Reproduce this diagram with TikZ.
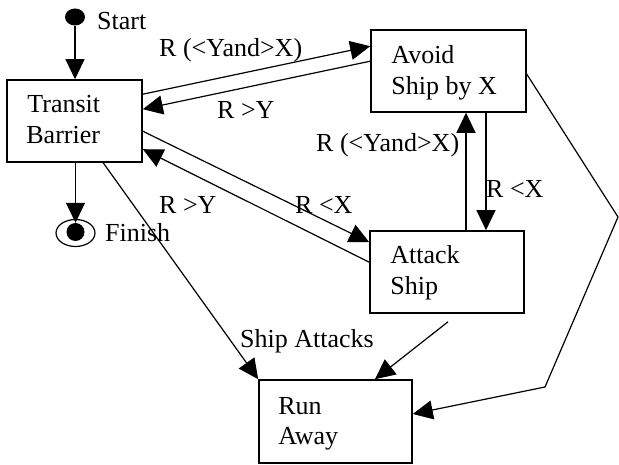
\documentclass[tikz,border=0pt]{standalone}
\usepackage{fontspec}
\setmainfont{Liberation Serif}
\usetikzlibrary{arrows.meta,shapes.geometric,calc}
\begin{document}
\begin{tikzpicture}[x=1pt,y=1pt,
  font=\fontsize{26}{31}\selectfont,
  box/.style={draw,line width=1.6pt,rectangle,inner sep=0,minimum height=82pt},
  txt/.style={inner sep=0,anchor=base west},
  conn/.style={line width=1.2pt,-{Triangle[length=20pt,width=19pt]}},
  plain/.style={line width=1.2pt},
  lbl/.style={inner sep=0,anchor=base west}]
\useasboundingbox (0,0) rectangle (619,464);
% boxes
\node[box,minimum width=135pt] (tb) at (74.5,343) {};
\node[box,minimum width=155pt] (av) at (448.5,393) {};
\node[box,minimum width=154pt] (at) at (447,192) {};
\node[box,minimum width=153pt,minimum height=83pt] (ra) at (335.5,42.5) {};
% box texts
\node[txt] (tb1) at ($(tb.north west)+(21,-33)$) {Transit};
\node[txt] (tb2) at ($(tb.north west)+(20,-64)$) {Barrier};
\node[txt] (av1) at ($(av.north west)+(21,-34)$) {Avoid};
\node[txt] (av2) at ($(av.north west)+(21,-65)$) {Ship by X};
\node[txt] (at1) at ($(at.north west)+(21,-33)$) {Attack};
\node[txt] (at2) at ($(at.north west)+(21,-64)$) {Ship};
\node[txt] (ra1) at ($(ra.north west)+(20,-35)$) {Run};
\node[txt] (ra2) at ($(ra.north west)+(20,-65)$) {Away};
% start and finish
\node[ellipse,fill=black,inner sep=0,minimum width=20pt,minimum height=17pt] (start) at (75,447) {};
\node[txt] (startl) at (97,434) {Start};
\node[ellipse,draw,line width=1.2pt,inner sep=0,minimum width=39pt,minimum height=27pt] (fin) at (75.5,231) {};
\node[ellipse,fill=black,inner sep=0,minimum width=18pt,minimum height=18pt] (findot) at (75.5,232) {};
\node[txt] (finl) at (105,222) {Finish};
% coordinates
\coordinate (atb) at ($(at.south)+(1,-8)$);
\coordinate (bend1) at (618,247);
\coordinate (bend2) at (545,77);
% connectors
\draw[conn] (start) -- (start |- tb.north);
\draw[conn] (findot |- tb.south) -- (findot.north);
\draw[conn] ($(tb.north east)+(0,-15)$) -- ($(av.north west)+(0,-17)$);
\draw[conn] ($(av.north west)+(0,-32)$) -- ($(tb.north east)+(0,-30)$);
\draw[conn] ($(tb.north east)+(0,-52)$) -- ($(at.north west)+(0,-12)$);
\draw[conn] ($(at.north west)+(0,-32)$) -- ($(tb.north east)+(0,-70)$);
\draw[conn] ($(tb.south west)+(97,0)$) -- (ra.north west);
\draw[conn] (atb) -- ($(ra.north)+(39.5,0)$);
\draw[conn] ($(av.south)+(37.5,0)$) -- ($(at.north)+(39,0)$);
\draw[conn] ($(at.north)+(19,0)$) -- ($(av.south)+(17.5,0)$);
\draw[conn] ($(av.north east)+(0,-45)$) -- (bend1) -- (bend2) -- ($(ra.east)+(0,7.5)$);
% labels
\node[lbl] (l1) at (159,407) {R (<Yand>X)};
\node[lbl] (l2) at (217,345) {R >Y};
\node[lbl] (l3) at (316,312) {R (<Yand>X)};
\node[lbl] (l4) at (486,266) {R <X};
\node[lbl] (l5) at (159,250) {R >Y};
\node[lbl] (l6) at (295,250) {R <X};
\node[lbl] (l7) at (240,116) {Ship Attacks};
\end{tikzpicture}
\end{document}
